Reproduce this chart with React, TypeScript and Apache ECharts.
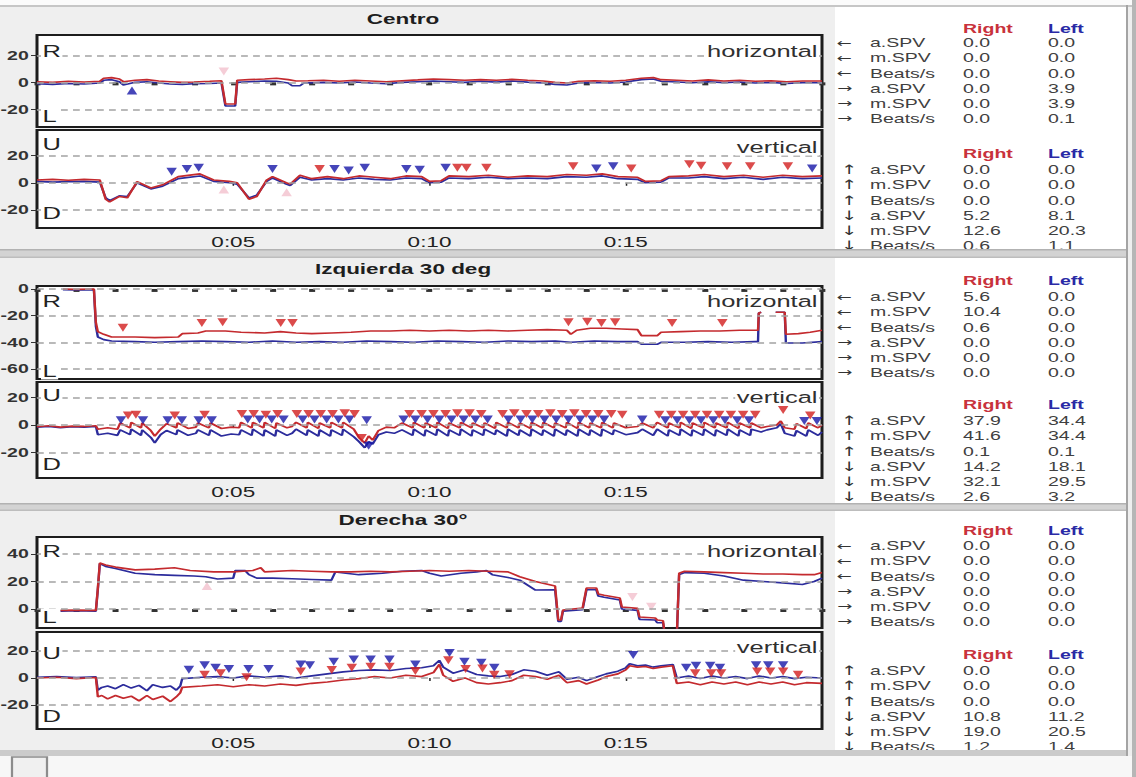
import React, { useEffect, useRef } from 'react';
import * as echarts from 'echarts';

const W = 757;
const H = 777;
const S = 1136 / W;
const X = (x: number) => x / S;
const FONT = '"Liberation Sans", Arial, Helvetica, sans-serif';
const ARROW_FONT = '"DejaVu Sans", "Liberation Sans", sans-serif';

const RED_LINE = '#c42a2e';
const BLUE_LINE = '#2c2c9c';
const RED_MARK = '#d21e1e';
const BLUE_MARK = '#1717a8';
const PALE_MARK = '#f2c0cd';

// ---------------- data ----------------
const sectionTitles = ['Centro', 'Izquierda 30 deg', 'Derecha 30°'];
const timeMin = 0;
const timeMax = 20;
const minorTickStep = 1;
const labelTickStep = 5;

const centroHYTicks = [-20, 0, 20];
const centroVYTicks = [-20, 0, 20];
const izqHYTicks = [-60, -40, -20, 0];
const izqVYTicks = [-20, 0, 20];
const derHYTicks = [0, 20, 40];
const derVYTicks = [-20, 0, 20];

const centroHRed = [[0,0.5],[0.4,0],[0.8,0.8],[1.2,0.3],[1.6,0.8],[1.7,3],[1.9,3.5],[2.1,2.5],[2.2,0.5],[2.5,1.5],[2.8,2],[3.1,1],[3.4,0.5],[3.7,0],[4.0,0.3],[4.4,0.8],[4.7,1.2],[4.8,-16],[5.05,-16],[5.1,1.5],[5.4,2],[5.8,2.5],[6.1,3],[6.4,2],[6.6,1],[6.9,1.2],[7.3,1.5],[7.7,0.8],[8.1,1.5],[8.5,1],[8.9,0.5],[9.3,1.2],[9.7,1.8],[10.1,2.5],[10.5,2],[10.9,1.5],[11.3,2],[11.7,1.5],[12.1,2.2],[12.5,1.5],[12.9,1],[13.2,0],[13.5,-0.5],[13.8,0.8],[14.2,1.2],[14.6,0.8],[15.0,1.5],[15.4,3],[15.7,3.5],[15.9,2],[16.3,1.5],[16.7,1],[17.1,1.8],[17.5,1],[17.9,1.5],[18.3,0.8],[18.7,1.2],[19.1,0.5],[19.5,1],[20,1]];
const centroHBlue = [[0,-1],[0.4,-1.5],[0.8,-0.8],[1.2,-1.2],[1.6,-0.5],[1.7,1.5],[1.9,2],[2.1,0.5],[2.2,-2],[2.5,0],[2.8,0.5],[3.1,-0.5],[3.4,-1.2],[3.7,-1.5],[4.0,-1],[4.4,-0.8],[4.7,-0.5],[4.8,-17.5],[5.05,-17.5],[5.1,0],[5.4,0.5],[5.8,1],[6.1,0.8],[6.4,-0.5],[6.5,-2.5],[6.7,-2.5],[6.8,-0.5],[7.3,0],[7.7,-0.5],[8.1,0.3],[8.5,-0.5],[8.9,-1],[9.3,0],[9.7,0.5],[10.1,1],[10.5,0.5],[10.9,0],[11.3,0.8],[11.7,0.2],[12.1,1],[12.5,0.2],[12.9,-0.5],[13.2,-1.5],[13.5,-2],[13.8,-0.5],[14.2,0],[14.6,-0.5],[15.0,0.3],[15.4,2],[15.7,2.5],[15.9,0.8],[16.3,0.3],[16.7,-0.3],[17.1,0.5],[17.5,-0.2],[17.9,0.3],[18.3,-0.5],[18.7,0],[19.1,-0.8],[19.5,-0.2],[20,-0.3]];
const centroHBlueUpMarks = [[2.42,-6]];
const centroHPaleDownMarks = [[4.76,8]];

const centroVRed = [[0,2],[0.4,2.5],[0.8,1.8],[1.2,2.5],[1.6,2],[1.75,-12],[1.85,-14],[2.1,-10],[2.3,-11],[2.55,0.8],[2.9,-3.8],[3.2,-1.5],[3.6,4.5],[4.15,6.5],[4.5,2],[4.9,1],[5.1,0],[5.4,-12],[5.6,-10],[5.85,2],[6.0,4.5],[6.35,0],[6.45,-1],[6.7,5.5],[7.0,3],[7.4,4.5],[7.8,3],[8.2,5],[8.6,4],[9.0,3],[9.4,5],[9.8,4.5],[10.0,1],[10.3,1.5],[10.5,5],[11.0,4.5],[11.5,5.5],[12.0,4],[12.5,5],[13.0,4.5],[13.5,6],[14.0,5.5],[14.4,6.5],[14.8,4.5],[15.3,4],[15.5,1],[15.9,1.5],[16.1,4.5],[16.6,5],[17.0,6],[17.5,4.5],[18.0,5.5],[18.5,4],[19.0,5.5],[19.5,4.5],[20,5]];
const centroVBlue = [[0,1],[0.4,0.5],[0.8,0.8],[1.2,1],[1.6,0.5],[1.75,-11],[1.85,-13],[2.1,-9.5],[2.3,-10],[2.55,0],[2.9,-4.5],[3.2,-2.5],[3.6,3],[4.15,5],[4.5,1],[4.9,0],[5.1,-1],[5.4,-11],[5.6,-9],[5.85,1],[6.0,3.5],[6.35,-1],[6.45,-2],[6.7,4],[7.0,2],[7.4,3],[7.8,2],[8.2,3.5],[8.6,2.5],[9.0,2],[9.4,3.5],[9.8,3],[10.0,0],[10.3,0.5],[10.5,3.5],[11.0,3],[11.5,4],[12.0,3],[12.5,3.5],[13.0,3],[13.5,4.5],[14.0,4],[14.4,5],[14.8,3],[15.3,2.5],[15.5,0],[15.9,0.5],[16.1,3.5],[16.6,3.5],[17.0,4.5],[17.5,3],[18.0,4],[18.5,2.5],[19.0,4],[19.5,3],[20,3.5]];
const centroVBlueMarks = [[3.43,8],[3.82,10],[4.12,11],[6.0,10],[7.58,10],[7.94,9],[8.35,11],[9.41,10],[9.75,9.5],[10.41,11],[14.25,10.5],[14.68,12],[19.75,10.5]];
const centroVRedMarks = [[7.2,10],[10.71,11],[10.94,11],[11.45,11],[13.66,12],[15.14,10.5],[16.62,13.5],[16.92,12.5],[17.58,12],[18.17,12],[19.13,12]];
const centroVPaleUpMarks = [[4.76,-5],[6.36,-7]];

const izqHRed = [[0.66,0],[1.0,-0.3],[1.45,0],[1.5,-25],[1.55,-32],[1.7,-34],[1.9,-36],[2.5,-36],[3.0,-36.5],[3.6,-36],[3.7,-33.5],[4.1,-33],[4.3,-31.5],[4.8,-31.5],[5.2,-32.5],[5.8,-33],[6.2,-32],[6.6,-33],[7.0,-33.5],[7.5,-33],[8.0,-32.5],[8.5,-31.5],[9.0,-31.5],[9.5,-31],[10.0,-31.5],[10.5,-31],[11.0,-31.5],[11.5,-31],[12.0,-31.5],[12.5,-31],[13.0,-30.5],[13.5,-31],[13.6,-34],[13.75,-31],[14.1,-29.5],[14.5,-29.5],[14.9,-30],[15.3,-30.5],[15.4,-35],[15.8,-35],[15.9,-32.5],[16.4,-32],[16.9,-31.5],[17.4,-31.5],[17.9,-31],[18.3,-31],[18.37,-31],[18.39,-18],[18.45,-17.5],[18.46,'-'],[18.8,'-'],[18.82,-17.5],[19.05,-17.5],[19.08,-34],[19.4,-33.5],[19.7,-32.5],[20,-31]];
const izqHBlue = [[0.66,-0.5],[1.0,-0.8],[1.45,-0.5],[1.5,-28],[1.55,-36],[1.7,-38],[1.9,-39],[2.5,-39.5],[3.0,-40],[3.6,-39.5],[4.2,-39],[4.8,-39.5],[5.4,-40],[6.0,-39],[6.6,-40],[7.2,-39.5],[7.8,-40],[8.4,-39],[9.0,-39.5],[9.6,-40],[10.2,-39],[10.8,-39.5],[11.4,-40],[12.0,-39],[12.6,-39.5],[13.2,-39],[13.6,-40],[14.2,-39],[14.8,-39.5],[15.3,-39.5],[15.4,-41.5],[15.8,-41.5],[15.9,-40],[16.5,-40],[17.1,-39.5],[17.7,-40],[18.3,-39.5],[18.37,-39.5],[18.39,-18],[18.45,-17.5],[18.46,'-'],[18.8,'-'],[18.82,-17.5],[19.05,-17.5],[19.08,-40.5],[19.5,-40.5],[20,-39.5]];
const izqHRedMarks = [[2.19,-29],[4.2,-25.5],[4.73,-25],[6.21,-25.5],[6.51,-25.5],[13.54,-25],[14.02,-24.5],[14.38,-25.5],[14.73,-25],[16.18,-25.5],[17.46,-25.5]];

const izqVRed = [[0,-1.2],[0.3,-0.5],[0.6,-1.5],[0.9,-0.8],[1.2,-1],[1.5,-0.5],[1.55,-3],[1.8,-2],[2.05,-3],
[2.12,1.5],[2.37,-2],[2.4,2],[2.65,-2],[2.68,1.5],[2.9,-4],[3.0,-8],[3.15,-3],
[3.3,1],[3.55,-2],[3.58,1.5],[3.85,-2.5],[4.05,-1.5],
[4.1,1.5],[4.38,-2],[4.42,1.5],[4.7,-2.5],[4.95,-1.5],[5.15,-2],
[5.2,2],[5.47,-2],[5.5,2],[5.77,-2],[5.8,2],[6.07,-2.5],[6.1,1.5],[6.37,-2],[6.5,-1],
[6.6,2],[6.87,-2],[6.9,2],[7.17,-2.5],[7.2,1.5],[7.47,-2],[7.5,2],[7.77,-2],[7.8,2],[8.07,-3],
[8.2,-9],[8.35,-13],[8.45,-8],[8.55,-11],[8.7,-4],[8.9,-1.5],[9.1,-2],
[9.3,1.5],[9.57,-2],[9.6,2],[9.87,-2],[9.9,1.5],[10.17,-2],[10.2,2],[10.47,-2.5],[10.5,1.5],[10.77,-2],[10.8,2],[11.07,-2],[11.1,1.5],[11.37,-2],[11.4,1.5],[11.67,-2.5],
[11.7,2],[11.97,-2],[12.0,2],[12.27,-2],[12.3,1.5],[12.57,-2.5],[12.6,2],[12.87,-2],[12.9,2],[13.17,-2],[13.2,1.5],[13.47,-2],[13.5,2],[13.77,-2.5],[13.8,2],[14.07,-2],[14.1,1.5],[14.37,-2],[14.4,2],[14.67,-2],
[14.7,1.5],[15.0,-2],[15.3,-1],[15.42,1.5],[15.7,-2],
[15.8,2],[16.07,-2],[16.1,1.5],[16.37,-2],[16.4,2],[16.67,-2.5],[16.7,1.5],[16.97,-2],[17.0,2],[17.27,-2],[17.3,1.5],[17.57,-2],[17.6,2],[17.87,-2.5],[17.9,1.5],[18.17,-2],[18.2,1.5],[18.45,-2],
[18.6,-1],[18.85,0],[18.95,3],[19.05,-2],[19.3,-3],[19.35,1],[19.6,-2.5],[19.65,1.5],[19.9,-2],[20,0]];
const izqVBlue = [[0,-1.5],[0.3,-1],[0.6,-2],[0.9,-1.2],[1.2,-1.5],[1.5,-1],[1.55,-7],[1.8,-6],[2.05,-7.5],
[2.12,-3.5],[2.37,-7],[2.4,-3],[2.65,-7.5],[2.68,-3.5],[2.9,-9],[3.0,-13],[3.15,-7],
[3.3,-4],[3.55,-7],[3.58,-3.5],[3.85,-7.5],[4.05,-6],
[4.1,-3.5],[4.38,-7.5],[4.42,-3.5],[4.7,-8],[4.95,-6.5],[5.15,-7],
[5.2,-3.5],[5.47,-7.5],[5.5,-3],[5.77,-8],[5.8,-3.5],[6.07,-8],[6.1,-3.5],[6.37,-7.5],[6.5,-6],
[6.6,-3],[6.87,-7.5],[6.9,-3.5],[7.17,-8],[7.2,-3.5],[7.47,-8],[7.5,-3.5],[7.77,-7.5],[7.8,-3],[8.07,-8.5],
[8.2,-12],[8.35,-16.5],[8.45,-12],[8.55,-14],[8.7,-7],[8.9,-5],[9.1,-6],
[9.3,-3.5],[9.57,-7.5],[9.6,-3],[9.87,-8],[9.9,-3.5],[10.17,-7.5],[10.2,-3],[10.47,-8],[10.5,-3.5],[10.77,-7.5],[10.8,-3],[11.07,-8],[11.1,-3.5],[11.37,-7.5],[11.4,-3],[11.67,-7],
[11.7,-3.5],[11.97,-8],[12.0,-3],[12.27,-7.5],[12.3,-3.5],[12.57,-8],[12.6,-3],[12.87,-7.5],[12.9,-3.5],[13.17,-8],[13.2,-3],[13.47,-7.5],[13.5,-3.5],[13.77,-8],[13.8,-3],[14.07,-7.5],[14.1,-3.5],[14.37,-8],[14.4,-3],[14.67,-7],
[14.7,-3.5],[15.0,-7],[15.3,-5.5],[15.42,-3],[15.7,-7.5],
[15.8,-3],[16.07,-8],[16.1,-3.5],[16.37,-7.5],[16.4,-3],[16.67,-8],[16.7,-3.5],[16.97,-7.5],[17.0,-3],[17.27,-8],[17.3,-3.5],[17.57,-7.5],[17.6,-3],[17.87,-8],[17.9,-3.5],[18.17,-7.5],[18.2,-3],[18.45,-5],
[18.6,-3.5],[18.85,-2],[18.95,1],[19.05,-6],[19.3,-8],[19.35,-4],[19.6,-8],[19.65,-3.5],[19.9,-7.5],[20,-5]];
const izqVRedMarks = [[2.32,7],[2.52,7.5],[3.51,7],[4.27,7.5],[5.22,8],[5.52,8],[5.83,7.5],[6.13,8],[6.62,8],[6.92,8],[7.23,8],[7.53,8],[7.84,8.5],[8.09,8],[8.27,-9.5],[9.49,8],[9.8,8],[10.1,8],[10.41,8],[10.71,8.5],[11.02,8.5],[11.32,8],[11.86,8],[12.16,8.5],[12.47,8],[12.77,8],[13.08,8.5],[13.38,8],[13.69,8.5],[13.99,8],[14.3,8],[14.63,8],[14.91,7.5],[15.85,7.5],[16.16,7.5],[16.46,7.5],[16.77,7.5],[17.07,7.5],[17.38,7.5],[17.68,7.5],[17.99,7.5],[18.3,7.5],[19.01,11],[19.7,7]];
const izqVBlueMarks = [[2.14,3.5],[2.7,3.5],[3.33,3.5],[3.69,3.5],[4.12,3.5],[4.45,3.5],[5.37,4],[5.67,4],[5.98,4],[6.28,4],[6.77,4],[7.07,4],[7.38,4],[7.68,4],[7.96,4],[8.4,3.5],[8.45,-15],[9.34,4],[9.64,4],[9.95,4],[10.25,4],[10.56,4],[10.87,4],[11.17,4],[11.48,4],[12.01,4],[12.32,4],[12.62,4],[12.93,4],[13.23,4],[13.54,4],[13.84,4],[14.15,4],[14.45,4],[15.42,4],[16.01,3.5],[16.31,3.5],[16.62,3.5],[16.92,3.5],[17.23,3.5],[17.53,3.5],[17.84,3.5],[18.14,3.5],[19.55,3],[19.87,3]];

const derHRed = [[0.6,-1],[1.0,-0.8],[1.5,-1],[1.55,15],[1.6,33.5],[1.75,32],[2.0,30.5],[2.5,28.5],[3.0,29],[3.5,30],[3.9,28],[4.5,27],[5.0,27],[5.5,28],[5.7,30],[5.8,27],[6.5,28],[7.0,27.5],[7.5,27],[8.0,27],[8.5,27.5],[9.0,27],[9.5,27.5],[10.0,28],[10.5,27.5],[11.0,28],[11.5,27.5],[12.0,27],[12.3,23.5],[12.7,20],[13.2,16.7],[13.28,-8],[13.35,-8],[13.4,-0.7],[13.9,0.7],[14.0,15.3],[14.25,15.3],[14.3,11],[14.45,10],[14.85,8],[14.9,1.5],[15.3,0.5],[15.35,-5.8],[15.75,-6.5],[15.8,-8],[15.95,-8.5],[16.0,-20],[16.3,-20],[16.36,26],[16.5,27.5],[17.0,27],[17.5,26.5],[18.0,26],[18.5,25.5],[19.0,25.5],[19.5,25],[19.8,25],[20,26.5]];
const derHBlue = [[0.6,-1.5],[1.0,-1.3],[1.5,-1.5],[1.55,14],[1.6,33],[1.75,31],[2.0,29.5],[2.5,26],[3.0,25],[3.5,24.5],[4.0,24],[4.3,23.5],[4.6,21.8],[5.0,22.5],[5.05,28],[5.3,28],[5.4,25],[5.6,22.5],[6.0,22.5],[6.5,22],[7.0,21.5],[7.5,21],[7.6,27],[8.2,25],[8.8,26],[9.3,27.5],[9.8,28],[10.0,26],[10.3,24],[10.8,26],[11.2,27],[11.45,28],[11.6,25],[12.0,23],[12.3,21],[12.7,13.8],[13.2,14],[13.28,-9],[13.35,-9],[13.4,-1.5],[13.9,-0.5],[14.0,14],[14.25,14],[14.3,9.5],[14.45,8.5],[14.85,6.5],[14.9,0],[15.3,-1],[15.35,-7.5],[15.75,-8],[15.8,-10],[15.95,-10],[16.0,-20],[16.3,-20],[16.36,25],[16.5,26.5],[17.0,26],[17.5,24],[18.0,21],[18.5,20],[19.0,19],[19.5,17.8],[19.8,20],[20,22.5]];
const derHPaleUpMarks = [[4.33,16.7]];
const derHPaleDownMarks = [[15.17,8.7],[15.65,1.7]];

const derVRed = [[0,0],[0.5,0.5],[1.0,-0.5],[1.5,0.3],[1.55,-14],[1.65,-13],[1.8,-15.5],[2.0,-13],[2.2,-15],[2.4,-13.5],[2.6,-17],[2.8,-13],[2.95,-16],[3.2,-13.5],[3.4,-17.5],[3.55,-14],[3.65,-11],[3.7,-7],[4.2,-6],[4.6,-5],[5.0,-6.5],[5.4,-5],[5.8,-6],[6.2,-4.5],[6.6,-5.5],[7.0,-4],[7.4,-3],[7.8,-1.5],[8.2,-0.5],[8.6,1],[9.0,0],[9.4,2],[9.8,1],[10.1,4],[10.25,10],[10.35,2],[10.6,-2.5],[10.9,0],[11.2,-3.5],[11.5,-4.5],[11.8,-3.5],[12.1,-2],[12.4,2],[12.7,1],[13.0,-1],[13.3,2],[13.5,-3.5],[13.8,-2],[14.0,-4.5],[14.3,-1.5],[14.5,1],[14.8,3],[15.0,6],[15.1,9],[15.3,8],[15.5,8.5],[15.7,7],[15.9,8],[16.2,9],[16.3,-4],[16.6,-3],[16.9,-5],[17.2,-3],[17.5,-4.5],[17.8,-3],[18.1,-5],[18.4,-3],[18.7,-4.5],[19.0,-3],[19.3,-5],[19.6,-3.5],[20,-4]];
const derVBlue = [[0,0.5],[0.5,1],[1.0,0.3],[1.5,0.8],[1.55,-9],[1.65,-7],[1.8,-6],[2.0,-8],[2.2,-5],[2.4,-7.5],[2.6,-5.5],[2.8,-9.5],[2.95,-5],[3.2,-7],[3.4,-6],[3.55,-9],[3.65,-6],[3.7,-0.5],[4.2,0.5],[4.6,1],[5.0,0],[5.4,1.5],[5.8,0.5],[6.2,1.5],[6.6,0],[7.0,1.5],[7.4,3],[7.8,4.5],[8.2,5.5],[8.6,6],[9.0,5.5],[9.4,7],[9.8,7.5],[10.1,9],[10.25,13],[10.35,8],[10.6,3.5],[10.9,6],[11.2,2.5],[11.5,1.5],[11.8,1],[12.1,2.5],[12.4,6],[12.7,5],[13.0,2],[13.3,4.5],[13.5,-1],[13.8,0.5],[14.0,-2],[14.3,1],[14.5,3],[14.8,5],[15.0,7.5],[15.1,10.5],[15.3,9],[15.5,9.5],[15.7,8],[15.9,9],[16.2,10],[16.3,0],[16.6,1.5],[16.9,-0.5],[17.2,1.5],[17.5,0],[17.8,1],[18.1,-0.5],[18.4,1.5],[18.7,0],[19.0,1],[19.3,-0.5],[19.6,0.5],[20,0]];
const derVBlueMarks = [[3.87,6],[4.27,9.4],[4.55,7.5],[4.89,6.6],[5.39,6.6],[5.9,6.6],[6.72,10],[6.95,9.4],[7.56,12],[8.07,13.6],[8.5,13.6],[8.98,13.6],[9.64,10],[10.51,18.4],[10.89,12],[11.32,11.3],[11.65,7.5],[15.19,17],[16.54,7.5],[16.79,9],[17.15,9],[17.4,7.5],[18.32,9.4],[18.63,9.4],[19.01,9.4]];
const derVRedMarks = [[4.27,2.4],[4.68,3.5],[5.34,0.5],[6.72,4.7],[7.51,5.9],[8.02,7.5],[8.5,8.2],[8.98,8.2],[9.64,5.2],[10.48,13],[10.92,6.6],[11.35,7],[11.65,2.4],[12.04,2.8],[16.77,3.5],[17.18,3.5],[17.43,3.5],[18.35,4.7],[18.68,4.7],[19.01,4.7],[19.39,2.4]];

// table
const rowLabels = ['a.SPV', 'm.SPV', 'Beats/s', 'a.SPV', 'm.SPV', 'Beats/s'];
const arrowsH = ['←', '←', '←', '→', '→', '→'];
const arrowsV = ['↑', '↑', '↑', '↓', '↓', '↓'];
const colHeaders = ['Right', 'Left'];
const centroHRight = ['0.0', '0.0', '0.0', '0.0', '0.0', '0.0'];
const centroHLeft = ['0.0', '0.0', '0.0', '3.9', '3.9', '0.1'];
const centroVRight = ['0.0', '0.0', '0.0', '5.2', '12.6', '0.6'];
const centroVLeft = ['0.0', '0.0', '0.0', '8.1', '20.3', '1.1'];
const izqHRight = ['5.6', '10.4', '0.6', '0.0', '0.0', '0.0'];
const izqHLeft = ['0.0', '0.0', '0.0', '0.0', '0.0', '0.0'];
const izqVRight = ['37.9', '41.6', '0.1', '14.2', '32.1', '2.6'];
const izqVLeft = ['34.4', '34.4', '0.1', '18.1', '29.5', '3.2'];
const derHRight = ['0.0', '0.0', '0.0', '0.0', '0.0', '0.0'];
const derHLeft = ['0.0', '0.0', '0.0', '0.0', '0.0', '0.0'];
const derVRight = ['0.0', '0.0', '0.0', '10.8', '19.0', '1.2'];
const derVLeft = ['0.0', '0.0', '0.0', '11.2', '20.5', '1.4'];

// ---------------- layout ----------------
const panelLayout = [
  { top: 35, height: 92, min: -33, max: 35, topY: 51, botY: 116, wordY: 51 },
  { top: 130, height: 98, min: -33, max: 38.5, topY: 144, botY: 213, wordY: 147 },
  { top: 286, height: 93, min: -67.5, max: 2.2, topY: 301, botY: 371, wordY: 301 },
  { top: 382, height: 96, min: -38.5, max: 31.3, topY: 395, botY: 464, wordY: 397 },
  { top: 537, height: 91, min: -13.8, max: 52.4, topY: 551, botY: 617, wordY: 551 },
  { top: 632, height: 97, min: -37.8, max: 34, topY: 653, botY: 716, wordY: 647 },
];
const sectionLayout = [
  { titleY: 19, h1: 28.5, r1: 43, h2: 154, r2: 170 },
  { titleY: 269, h1: 281, r1: 297, h2: 405, r2: 421 },
  { titleY: 520, h1: 531, r1: 546, h2: 655, r2: 671 },
];
const ROW = 15.1;

function buildOption() {
  const panelData = [
    { ticks: centroHYTicks, red: centroHRed, blue: centroHBlue, redMarks: [], blueMarks: [], blueUp: centroHBlueUpMarks, paleDown: centroHPaleDownMarks, paleUp: [] },
    { ticks: centroVYTicks, red: centroVRed, blue: centroVBlue, redMarks: centroVRedMarks, blueMarks: centroVBlueMarks, blueUp: [], paleDown: [], paleUp: centroVPaleUpMarks },
    { ticks: izqHYTicks, red: izqHRed, blue: izqHBlue, redMarks: izqHRedMarks, blueMarks: [], blueUp: [], paleDown: [], paleUp: [] },
    { ticks: izqVYTicks, red: izqVRed, blue: izqVBlue, redMarks: izqVRedMarks, blueMarks: izqVBlueMarks, blueUp: [], paleDown: [], paleUp: [] },
    { ticks: derHYTicks, red: derHRed, blue: derHBlue, redMarks: [], blueMarks: [], blueUp: [], paleDown: derHPaleDownMarks, paleUp: derHPaleUpMarks },
    { ticks: derVYTicks, red: derVRed, blue: derVBlue, redMarks: derVRedMarks, blueMarks: derVBlueMarks, blueUp: [], paleDown: [], paleUp: [] },
  ];
  const grids: any[] = [];
  const xAxes: any[] = [];
  const yAxes: any[] = [];
  const series: any[] = [];
  const marks = (i: number, data: any[], color: string, rot: number, z: number) => ({
    type: 'scatter', xAxisIndex: i, yAxisIndex: i, data, symbol: 'triangle', symbolRotate: rot,
    symbolSize: [7, 8], itemStyle: { color }, silent: true, z,
  });
  panelLayout.forEach((p, i) => {
    const isV = i % 2 === 1;
    const d = panelData[i];
    grids.push({
      left: X(37), width: X(785), top: p.top, height: p.height, show: true,
      backgroundColor: '#ffffff', borderColor: '#1c1c1c', borderWidth: 2,
      containLabel: false, outerBoundsMode: 'none',
    });
    xAxes.push({
      type: 'value', gridIndex: i, min: timeMin, max: timeMax,
      interval: isV ? labelTickStep : minorTickStep,
      axisLine: { show: false }, splitLine: { show: false },
      axisTick: isV
        ? { show: true, length: 3, lineStyle: { color: '#222', width: 1 } }
        : { show: true, length: 3, lineStyle: { color: '#333', width: 4 } },
      axisLabel: isV
        ? {
            show: true, margin: 6, color: '#222', fontSize: 15, fontFamily: FONT,
            showMinLabel: false, showMaxLabel: false,
            formatter: (v: number) => (v <= timeMin || v >= timeMax ? '' : `0:${String(v).padStart(2, '0')}`),
          }
        : { show: false },
    });
    yAxes.push({
      type: 'value', gridIndex: i, min: p.min, max: p.max,
      axisLine: { show: false }, splitLine: { show: false },
      axisTick: { show: true, customValues: d.ticks, length: 4, lineStyle: { color: '#333', width: 1 } },
      axisLabel: { show: true, customValues: d.ticks, margin: 5.5, color: '#333', fontSize: 13, fontWeight: 'bold', fontFamily: FONT },
    });
    series.push({
      type: 'line', xAxisIndex: i, yAxisIndex: i, data: [[timeMin, d.ticks[0]]], symbol: 'none',
      lineStyle: { opacity: 0 }, silent: true, z: 1,
      markLine: {
        silent: true, symbol: ['none', 'none'], label: { show: false }, animation: false,
        lineStyle: { type: [4.5, 3.5], color: '#a2a2a2', width: 1.5 },
        emphasis: { disabled: true },
        data: d.ticks.map((v: number) => ({ yAxis: v })),
      },
    });
    series.push({ type: 'line', xAxisIndex: i, yAxisIndex: i, data: d.blue, symbol: 'none', silent: true, z: 3, lineStyle: { color: BLUE_LINE, width: 1.6 }, itemStyle: { color: BLUE_LINE } });
    series.push({ type: 'line', xAxisIndex: i, yAxisIndex: i, data: d.red, symbol: 'none', silent: true, z: 3, lineStyle: { color: RED_LINE, width: 1.6 }, itemStyle: { color: RED_LINE } });
    if (d.paleDown.length) series.push(marks(i, d.paleDown, PALE_MARK, 180, 4));
    if (d.paleUp.length) series.push(marks(i, d.paleUp, PALE_MARK, 0, 4));
    if (d.blueUp.length) series.push(marks(i, d.blueUp, BLUE_MARK, 0, 5));
    if (d.blueMarks.length) series.push(marks(i, d.blueMarks, BLUE_MARK, 180, 5));
    if (d.redMarks.length) series.push(marks(i, d.redMarks, RED_MARK, 180, 6));
  });

  // ---------- graphic ----------
  const g: any[] = [];
  const rect = (x: number, y: number, w: number, h: number, fill: string, z = 1, stroke?: string) => ({
    type: 'rect', z, silent: true, shape: { x: X(x), y, width: X(w), height: h },
    style: stroke ? { fill, stroke, lineWidth: 1.5 } : { fill },
  });
  const txt = (x: number, y: number, text: string, o: any = {}) => ({
    type: 'text', z: o.z ?? 50, silent: true, x: X(x), y,
    style: {
      text, fill: o.fill ?? '#404040', fontSize: o.size ?? 13, fontWeight: o.weight ?? 'normal',
      fontFamily: o.family ?? FONT, align: o.align ?? 'left', verticalAlign: 'middle',
      ...(o.bg ? { backgroundColor: o.bg, padding: [0, 1] } : {}),
    },
  });

  g.push(rect(0, 0, 1136, 5, '#fbfbfb'));
  g.push(rect(0, 5, 1136, 2, '#c6c6c6'));
  g.push(rect(835, 7, 291, 242, '#ffffff'));
  g.push(rect(835, 258, 291, 245, '#ffffff'));
  g.push(rect(835, 511, 291, 239, '#ffffff'));

  // titles
  sectionLayout.forEach((s, k) => {
    g.push(txt(403, s.titleY, sectionTitles[k], { align: 'center', weight: 'bold', size: 15, fill: '#1e1e1e' }));
  });

  // panel inner labels
  const letters = [['R', 'L'], ['U', 'D'], ['R', 'L'], ['U', 'D'], ['R', 'L'], ['U', 'D']];
  const words = ['horizontal', 'vertical', 'horizontal', 'vertical', 'horizontal', 'vertical'];
  panelLayout.forEach((p, i) => {
    g.push(txt(41, p.topY, letters[i][0], { size: 17, fill: '#222', bg: '#ffffff' }));
    g.push(txt(41, p.botY, letters[i][1], { size: 17, fill: '#222', bg: '#ffffff' }));
    g.push(txt(819, p.wordY, words[i], { size: 17, fill: '#303030', align: 'right', bg: '#ffffff' }));
  });

  // tables
  const tableVals = [
    [centroHRight, centroHLeft, centroVRight, centroVLeft],
    [izqHRight, izqHLeft, izqVRight, izqVLeft],
    [derHRight, derHLeft, derVRight, derVLeft],
  ];
  sectionLayout.forEach((s, k) => {
    const [hr, hl, vr, vl] = tableVals[k];
    [s.h1, s.h2].forEach((hy) => {
      g.push(txt(963, hy, colHeaders[0], { weight: 'bold', size: 13, fill: '#c8323c' }));
      g.push(txt(1048, hy, colHeaders[1], { weight: 'bold', size: 13, fill: '#2a2aa6' }));
    });
    rowLabels.forEach((lab, r) => {
      const y1 = s.r1 + r * ROW;
      g.push(txt(837, y1, arrowsH[r], { size: 12, fill: '#333', family: ARROW_FONT }));
      g.push(txt(870, y1, lab));
      g.push(txt(963, y1, hr[r]));
      g.push(txt(1048, y1, hl[r]));
      const y2 = s.r2 + r * ROW;
      g.push(txt(841, y2, arrowsV[r], { size: 13, fill: '#333', family: ARROW_FONT }));
      g.push(txt(870, y2, lab));
      g.push(txt(963, y2, vr[r]));
      g.push(txt(1048, y2, vl[r]));
    });
  });

  // separators and frame (above table text to cut last rows)
  g.push(rect(0, 249, 1128, 9, '#d3d3d3', 60));
  g.push(rect(0, 249, 1128, 1.5, '#b2b2b2', 61));
  g.push(rect(0, 256.5, 1128, 1.5, '#bdbdbd', 61));
  g.push(rect(0, 503, 1128, 8, '#d3d3d3', 60));
  g.push(rect(0, 503, 1128, 1.5, '#b2b2b2', 61));
  g.push(rect(0, 509.5, 1128, 1.5, '#bdbdbd', 61));
  g.push(rect(0, 750, 1128, 6, '#cbcbcb', 60));
  g.push(rect(0, 756, 1136, 21, '#f7f7f7', 60));
  g.push(rect(1126, 5, 2, 751, '#a4a4a4', 62));
  g.push(rect(1132, 0, 4, 777, '#b6b6b6', 62));
  g.push(rect(12, 757, 35, 24, '#f0f0f0', 63, '#8c8c8c'));

  return {
    animation: false,
    backgroundColor: '#efefef',
    grid: grids,
    xAxis: xAxes,
    yAxis: yAxes,
    series,
    graphic: { elements: g },
  };
}

export default function App() {
  const ref = useRef<HTMLDivElement>(null);
  useEffect(() => {
    document.body.style.margin = '0';
    document.body.style.overflow = 'hidden';
    const chart = echarts.init(ref.current as HTMLDivElement, null, { renderer: 'svg' });
    chart.setOption(buildOption() as any);
    return () => chart.dispose();
  }, []);
  return (
    <div
      ref={ref}
      style={{
        position: 'absolute', left: 0, top: 0, width: W, height: H,
        transform: `scaleX(${S})`, transformOrigin: '0 0', background: '#efefef',
      }}
    />
  );
}
